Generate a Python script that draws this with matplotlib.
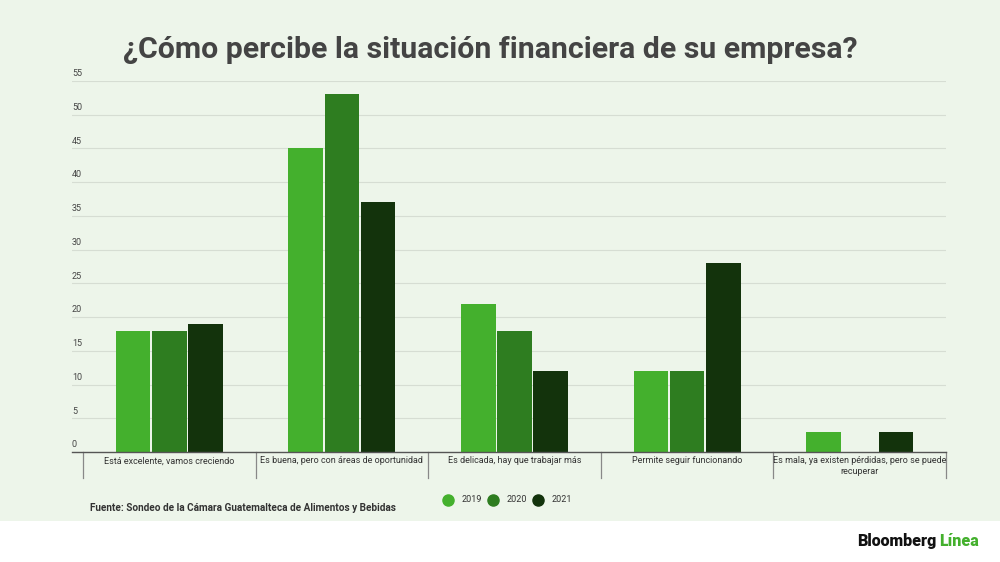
import matplotlib.pyplot as plt
import matplotlib.transforms as mtransforms
from matplotlib.lines import Line2D
from matplotlib.patches import Rectangle
import numpy as np

plt.rcParams['font.family'] = ['Roboto', 'DejaVu Sans']

categories = [
    "Está excelente, vamos creciendo",
    "Es buena, pero con áreas de oportunidad",
    "Es delicada, hay que trabajar más",
    "Permite seguir funcionando",
    "Es mala, ya existen pérdidas, pero se puede\nrecuperar",
]
years = ["2019", "2020", "2021"]
values_2019 = [18, 45, 22, 12, 3]
values_2020 = [18, 53, 18, 12, 0]
values_2021 = [19, 37, 12, 28, 3]
y_ticks = [0, 5, 10, 15, 20, 25, 30, 35, 40, 45, 50, 55]

colors = ['#44b02d', '#2e7d20', '#13330c']
bg = '#edf5ea'
W, H = 1000, 562

fig = plt.figure(figsize=(10, 5.62), dpi=100, facecolor='white')
# light green panel behind the chart
fig.patches.append(Rectangle((0, 1 - 521 / H), 1, 521 / H, transform=fig.transFigure,
                             facecolor=bg, edgecolor='none', zorder=-10))

ax = fig.add_axes([72 / W, 1 - 452 / H, (946 - 72) / W, (452 - 81) / H])
ax.set_facecolor('none')
ax.set_zorder(2)

x = np.arange(len(categories))
series = [values_2019, values_2020, values_2021]
offsets = [-0.21, 0, 0.21]
for vals, off, col in zip(series, offsets, colors):
    ax.bar(x + off, vals, width=0.2, color=col, linewidth=0, zorder=3)

ax.set_xlim(-0.5 - 11 / 172.6, 4.5)
ax.set_ylim(0, 55)
ax.set_yticks(y_ticks)
ax.yaxis.grid(True, color='#d6ddd3', linewidth=0.8, zorder=0)
ax.set_axisbelow(True)
ax.tick_params(left=False, bottom=False, labelleft=False, labelbottom=False)
for s in ['top', 'right', 'left']:
    ax.spines[s].set_visible(False)
ax.spines['bottom'].set_color('#555555')
ax.spines['bottom'].set_linewidth(1.0)
ax.spines['bottom'].set_zorder(4)

# y tick labels above gridlines
ytrans = mtransforms.blended_transform_factory(ax.transAxes, ax.transData)
for t in y_ticks:
    ax.text(0, t + 0.4, str(t), transform=ytrans, fontsize=6.5, color='#444444',
            ha='left', va='bottom')

# category separators and labels
xtrans = mtransforms.blended_transform_factory(ax.transData, ax.transAxes)
sep_len = (478 - 452) / (452 - 81)
for b in np.arange(-0.5, len(categories), 1.0):
    ax.plot([b, b], [0, -sep_len], transform=xtrans, color='#888888',
            linewidth=0.9, clip_on=False)
for i, c in enumerate(categories):
    ax.text(i, -0.012, c, transform=xtrans, fontsize=6.5, color='#333333',
            ha='center', va='top', linespacing=1.2)

fig.text(490 / W, 1 - 50 / H, "¿Cómo percibe la situación financiera de su empresa?",
         fontsize=21.8, fontweight='bold', color='#444444', ha='center', va='center')

# legend drawn by hand
legend_x = [448, 493, 538]
for lx, c, y in zip(legend_x, colors, years):
    fig.add_artist(Line2D([lx / W], [1 - 500 / H], marker='o', linestyle='none',
                          markersize=8, markerfacecolor=c, markeredgecolor=c,
                          transform=fig.transFigure))
    fig.text((lx + 14) / W, 1 - 500 / H, y, fontsize=6.5, color='#333333',
             ha='left', va='center')

fig.text(90 / W, 1 - 508 / H, "Fuente: Sondeo de la Cámara Guatemalteca de Alimentos y Bebidas",
         fontsize=7.2, fontweight='bold', color='#333333', ha='left', va='center')

fig.text(857 / W, 1 - 541 / H, "Bloomberg", fontsize=11.5, fontweight=900,
         color='#111111', ha='left', va='center')
fig.text(979 / W, 1 - 541 / H, "Línea", fontsize=11.5, fontweight=900,
         color='#44b02d', ha='right', va='center')

fig.savefig('out.png', dpi=100, facecolor=fig.get_facecolor())
